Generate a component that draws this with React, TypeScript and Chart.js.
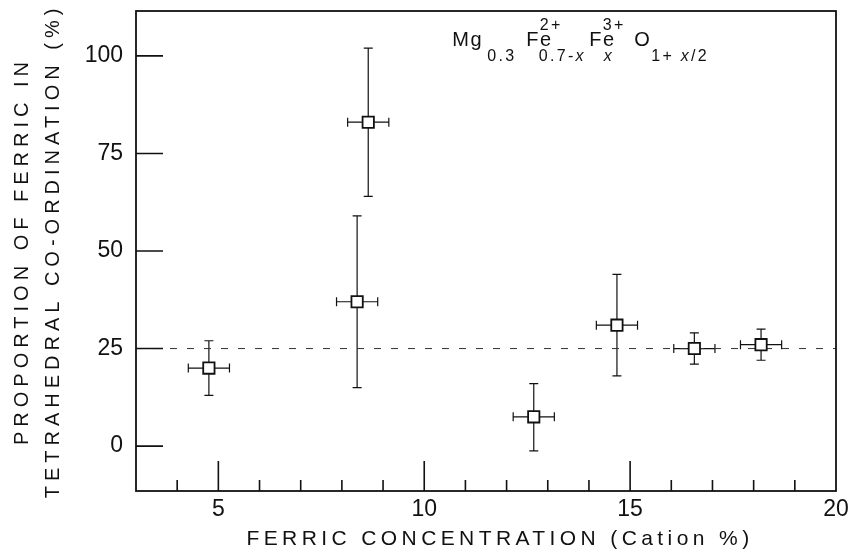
import React, { useEffect, useRef } from 'react';
import { Chart, registerables } from 'chart.js';

Chart.register(...registerables);

// ---- data ----
const ferricX = [4.77, 8.37, 8.64, 12.66, 14.68, 16.56, 18.18];
const tetraY = [20, 37, 83, 7.5, 31, 25, 26];
const yLow = [13, 15, 64, -1.2, 18, 21, 22];
const yHigh = [27, 59, 102, 16, 44, 29, 30];
const xErr = [0.5, 0.5, 0.5, 0.5, 0.5, 0.5, 0.5];
const refLineX = [3, 20];
const refLineY = [25, 25];
const xMajorTicks = [5, 10, 15, 20];
const xMinorTicks = [4, 6, 7, 8, 9, 11, 12, 13, 14, 16, 17, 18, 19];
const yTicks = [0, 25, 50, 75, 100];
const xRange = [3, 20];
const yRange = [-11.5, 111.5];
const xTitle = 'FERRIC CONCENTRATION (Cation %)';
const yTitle = ['PROPORTION OF FERRIC IN', 'TETRAHEDRAL CO-ORDINATION (%)'];
const formulaAnchor = { x: 10.68, y: 102.6 };
// formula pieces: segments [text, italic], horizontal offset (px) and role
const formulaParts = [
  { segs: [['Mg', false]], dx: 0, role: 'base' },
  { segs: [['0.3', false]], dx: 35, role: 'sub' },
  { segs: [['Fe', false]], dx: 74, role: 'base' },
  { segs: [['2+', false]], dx: 87.5, role: 'sup' },
  { segs: [['0.7-', false], ['x', true]], dx: 86.5, role: 'sub' },
  { segs: [['Fe', false]], dx: 137, role: 'base' },
  { segs: [['3+', false]], dx: 150.5, role: 'sup' },
  { segs: [['x', true]], dx: 151.5, role: 'sub' },
  { segs: [['O', false]], dx: 182, role: 'base' },
  { segs: [['1+ ', false], ['x', true], ['/2', false]], dx: 199, role: 'sub' },
];

const FONT = '"Liberation Sans", Arial, sans-serif';
const INK = '#111';

const errorBarPlugin = {
  id: 'errorBars',
  beforeDatasetsDraw(chart: any) {
    const { ctx, scales } = chart;
    const x = scales.x, y = scales.y;
    const cap = 4.5;
    ctx.save();
    ctx.strokeStyle = INK;
    ctx.lineWidth = 1.2;
    ctx.beginPath();
    ferricX.forEach((fx, i) => {
      const px = x.getPixelForValue(fx);
      const py = y.getPixelForValue(tetraY[i]);
      const pTop = y.getPixelForValue(yHigh[i]);
      const pBot = y.getPixelForValue(yLow[i]);
      const pL = x.getPixelForValue(fx - xErr[i]);
      const pR = x.getPixelForValue(fx + xErr[i]);
      ctx.moveTo(px, pTop); ctx.lineTo(px, pBot);
      ctx.moveTo(px - cap, pTop); ctx.lineTo(px + cap, pTop);
      ctx.moveTo(px - cap, pBot); ctx.lineTo(px + cap, pBot);
      ctx.moveTo(pL, py); ctx.lineTo(pR, py);
      ctx.moveTo(pL, py - cap); ctx.lineTo(pL, py + cap);
      ctx.moveTo(pR, py - cap); ctx.lineTo(pR, py + cap);
    });
    ctx.stroke();
    ctx.restore();
  },
};

const frameTicksPlugin = {
  id: 'frameTicks',
  afterDatasetsDraw(chart: any) {
    const { ctx, chartArea, scales } = chart;
    const { left, right, top, bottom } = chartArea;
    const x = scales.x, y = scales.y;
    ctx.save();
    ctx.strokeStyle = INK;
    ctx.lineWidth = 1.8;
    ctx.strokeRect(left, top, right - left, bottom - top);
    ctx.lineWidth = 1.6;
    ctx.beginPath();
    xMajorTicks.forEach((v) => {
      if (v >= xRange[1]) return;
      const px = x.getPixelForValue(v);
      ctx.moveTo(px, bottom); ctx.lineTo(px, bottom - 30);
    });
    xMinorTicks.forEach((v) => {
      const px = x.getPixelForValue(v);
      ctx.moveTo(px, bottom); ctx.lineTo(px, bottom - 11);
    });
    yTicks.forEach((v) => {
      const py = y.getPixelForValue(v);
      ctx.moveTo(left, py); ctx.lineTo(left + 27, py);
    });
    ctx.stroke();
    ctx.restore();
  },
};

const formulaPlugin = {
  id: 'formula',
  afterDraw(chart: any) {
    const { ctx, scales } = chart;
    const x0 = scales.x.getPixelForValue(formulaAnchor.x);
    const base = scales.y.getPixelForValue(formulaAnchor.y);
    ctx.save();
    ctx.fillStyle = INK;
    ctx.textBaseline = 'alphabetic';
    ctx.textAlign = 'left';
    formulaParts.forEach((p) => {
      const isBase = p.role === 'base';
      const size = isBase ? 20 : 16;
      const yy = base + (p.role === 'sub' ? 15.5 : p.role === 'sup' ? -16 : 0);
      let cx = x0 + p.dx;
      (ctx as any).letterSpacing = isBase ? '1.5px' : '2.3px';
      p.segs.forEach(([t, it]) => {
        ctx.font = `${it ? 'italic ' : ''}${size}px ${FONT}`;
        ctx.fillText(t as string, cx, yy);
        cx += ctx.measureText(t as string).width;
      });
    });
    ctx.restore();
  },
};

const titleSpacingPlugin = {
  id: 'titleSpacing',
  beforeDraw(chart: any) {
    Object.values(chart.scales).forEach((s: any) => {
      if (s._spacingPatched) return;
      const orig = s.drawTitle;
      s.drawTitle = function (...args: any[]) {
        const ctx = this.ctx;
        ctx.save();
        const horiz = this.isHorizontal();
        ctx.letterSpacing = horiz ? '4.4px' : '5px';
        if (horiz) ctx.translate(14, 0);
        orig.apply(this, args);
        ctx.restore();
      };
      s._spacingPatched = true;
    });
  },
};

export default function App() {
  const ref = useRef<HTMLCanvasElement>(null);
  useEffect(() => {
    const scatterData = ferricX.map((v, i) => ({ x: v, y: tetraY[i] }));
    const lineData = refLineX.map((v, i) => ({ x: v, y: refLineY[i] }));
    const chart = new Chart(ref.current as HTMLCanvasElement, {
      type: 'scatter',
      data: {
        datasets: [
          {
            label: 'Proportion',
            data: scatterData,
            pointStyle: 'rect',
            pointRadius: 8,
            pointBorderWidth: 1.8,
            pointBackgroundColor: '#fff',
            pointBorderColor: INK,
            showLine: false,
          },
          {
            label: '25%',
            type: 'line',
            data: lineData,
            borderColor: '#333',
            borderWidth: 1,
            borderDash: [7, 10],
            pointRadius: 0,
            fill: false,
          },
        ],
      } as any,
      options: {
        animation: false,
        responsive: true,
        maintainAspectRatio: false,
        layout: { padding: { top: 11, right: 13, left: 0, bottom: 0 } },
        plugins: { legend: { display: false }, tooltip: { enabled: false } },
        scales: {
          x: {
            type: 'linear',
            min: xRange[0],
            max: xRange[1],
            afterBuildTicks: (s: any) => { s.ticks = xMajorTicks.map((v) => ({ value: v })); },
            afterFit: (s: any) => { s.height = 62; s.paddingLeft = 0; s.paddingRight = 0; },
            grid: { display: false, drawTicks: false },
            border: { display: false },
            ticks: { font: { family: FONT, size: 23 }, color: INK, padding: 5, autoSkip: false, maxRotation: 0 },
            title: {
              display: true,
              text: xTitle,
              font: { family: FONT, size: 21 },
              color: INK,
              padding: { top: 0, bottom: 1 },
            },
          },
          y: {
            type: 'linear',
            min: yRange[0],
            max: yRange[1],
            afterBuildTicks: (s: any) => { s.ticks = yTicks.map((v) => ({ value: v })); },
            afterFit: (s: any) => { s.width = 136; s.paddingTop = 0; s.paddingBottom = 0; },
            grid: { display: false, drawTicks: false },
            border: { display: false },
            ticks: { font: { family: FONT, size: 23 }, color: INK, padding: 13 },
            title: {
              display: true,
              text: yTitle,
              font: { family: FONT, size: 20, lineHeight: 1.55 },
              color: INK,
              padding: { top: 6.5, bottom: 0 },
            },
          },
        },
      } as any,
      plugins: [errorBarPlugin, frameTicksPlugin, formulaPlugin, titleSpacingPlugin],
    });
    return () => chart.destroy();
  }, []);
  return (
    <div style={{ position: 'fixed', left: 0, top: 0, width: 849, height: 553, background: '#fff' }}>
      <canvas ref={ref} />
    </div>
  );
}
